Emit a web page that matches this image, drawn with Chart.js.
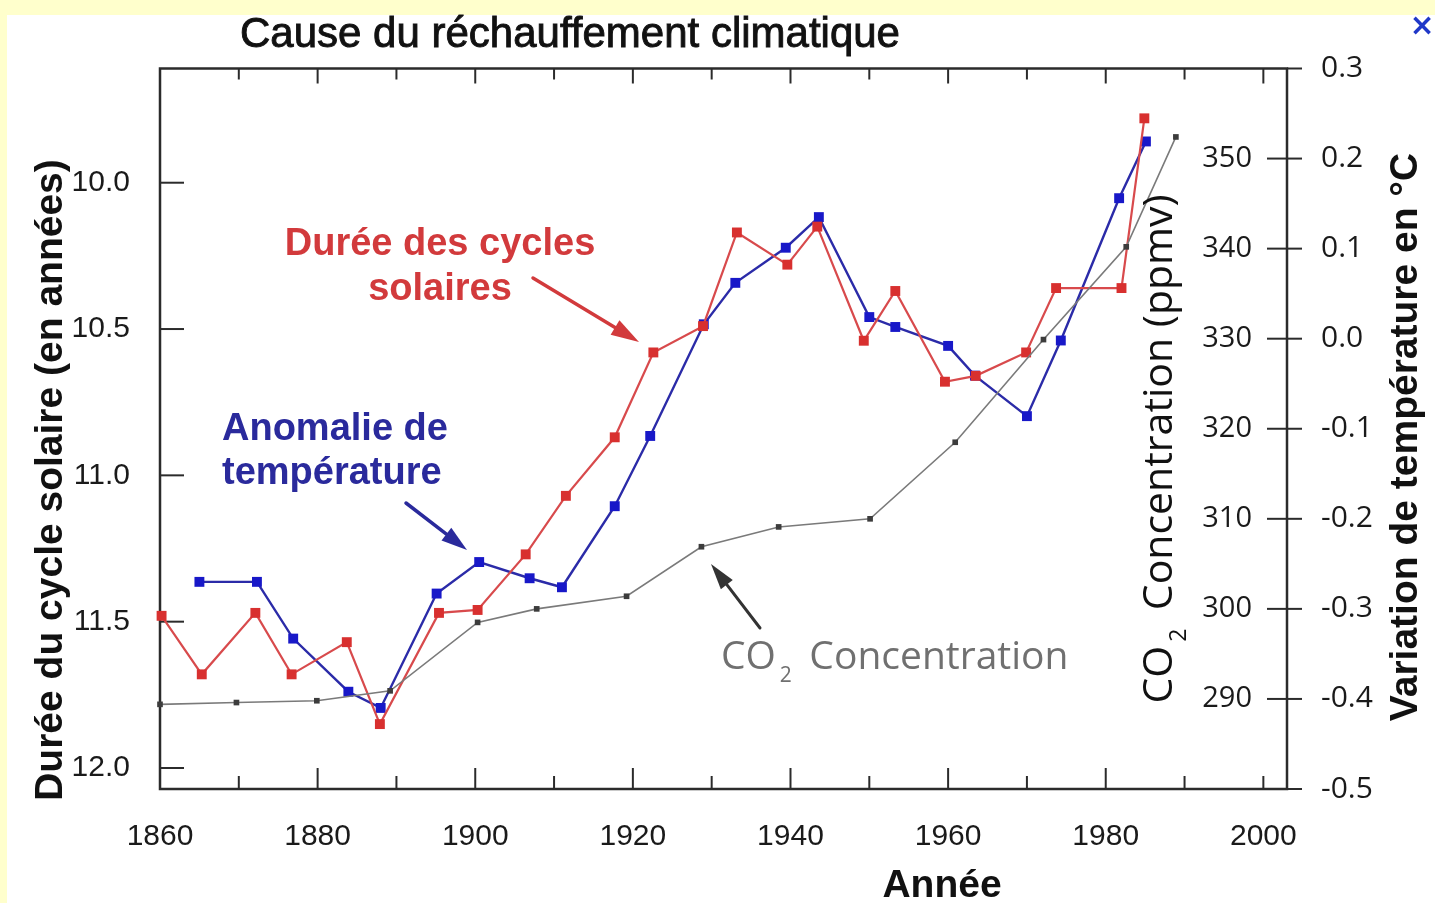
<!DOCTYPE html>
<html>
<head>
<meta charset="utf-8">
<script src="https://cdn.jsdelivr.net/npm/chart.js@4.4.0/dist/chart.umd.min.js"></script>
<style>
  html, body { margin: 0; padding: 0; background: #ffffcc; overflow: hidden; }
  #wrap { width: 1435px; height: 903px; position: relative; }
  canvas { display: block; }
</style>
</head>
<body>
<div id="wrap"><canvas id="c" width="1435" height="903"></canvas></div>
<script>
// ---------- DATA ----------
const solarYears = [1860.2, 1865.3, 1872.1, 1876.7, 1883.7, 1887.9, 1895.4, 1900.3, 1906.4, 1911.5, 1917.7, 1922.6, 1928.9, 1933.2, 1939.6, 1943.4, 1949.3, 1953.3, 1959.6, 1963.5, 1969.9, 1973.7, 1982.0, 1984.9];
const solarLength = [11.48, 11.68, 11.47, 11.68, 11.57, 11.85, 11.47, 11.46, 11.27, 11.07, 10.87, 10.58, 10.49, 10.17, 10.28, 10.15, 10.54, 10.37, 10.68, 10.66, 10.58, 10.36, 10.36, 9.78];

const tempYears = [1865.0, 1872.3, 1876.9, 1883.9, 1888.0, 1895.1, 1900.5, 1906.9, 1911.0, 1917.7, 1922.2, 1929.0, 1933.0, 1939.4, 1943.6, 1950.0, 1953.3, 1960.0, 1963.4, 1970.0, 1974.3, 1981.7, 1985.1];
const tempAnomaly = [-0.270, -0.270, -0.333, -0.392, -0.410, -0.283, -0.248, -0.266, -0.276, -0.186, -0.108, 0.016, 0.062, 0.101, 0.135, 0.024, 0.013, -0.008, -0.041, -0.086, -0.002, 0.156, 0.219];

const co2Years = [1860.0, 1869.7, 1879.9, 1889.2, 1900.3, 1907.8, 1919.2, 1928.7, 1938.5, 1950.1, 1960.9, 1972.1, 1982.6, 1988.9];
const co2Ppmv = [289.4, 289.6, 289.8, 290.9, 298.5, 300.0, 301.4, 306.9, 309.1, 310.0, 318.5, 329.9, 340.2, 352.4];

const yearTicks = [1860, 1880, 1900, 1920, 1940, 1960, 1980, 2000];
const decadeMarks = [1870, 1880, 1890, 1900, 1910, 1920, 1930, 1940, 1950, 1960, 1970, 1980, 1990, 2000];
const solarTicks = [10.0, 10.5, 11.0, 11.5, 12.0];
const co2Ticks = [290, 300, 310, 320, 330, 340, 350];
const tempTicks = [-0.5, -0.4, -0.3, -0.2, -0.1, 0.0, 0.1, 0.2, 0.3];

// ---------- HELPERS ----------
const W = 1435, H = 903;
function pts(xs, ys) { return xs.map((x, i) => ({ x: x, y: ys[i] })); }
function setTicks(arr) { return function (s) { s.ticks = arr.map(v => ({ value: v })); }; }
function line(ctx, x1, y1, x2, y2) { ctx.beginPath(); ctx.moveTo(x1, y1); ctx.lineTo(x2, y2); ctx.stroke(); }
function arrow(ctx, x1, y1, x2, y2, color, lw, hl, hw) {
  const ang = Math.atan2(y2 - y1, x2 - x1);
  const bx = x2 - hl * Math.cos(ang), by = y2 - hl * Math.sin(ang);
  ctx.save();
  ctx.strokeStyle = color; ctx.fillStyle = color; ctx.lineWidth = lw; ctx.lineCap = 'round';
  line(ctx, x1, y1, bx, by);
  ctx.beginPath();
  ctx.moveTo(x2, y2);
  ctx.lineTo(bx + hw / 2 * Math.sin(ang), by - hw / 2 * Math.cos(ang));
  ctx.lineTo(bx - hw / 2 * Math.sin(ang), by + hw / 2 * Math.cos(ang));
  ctx.closePath(); ctx.fill();
  ctx.restore();
}
// "CO" + subscript 2 + rest, left aligned on alphabetic baseline y
const SUB_PRE = 0.1, SUB_POST = 0.45;
function co2Text(ctx, x, y, size, rest, color) {
  ctx.fillStyle = color;
  ctx.textAlign = 'left'; ctx.textBaseline = 'alphabetic';
  ctx.font = size + 'px "Open Sans"';
  ctx.fillText('CO', x, y);
  let cx = x + ctx.measureText('CO').width;
  const sub = Math.round(size * 0.55);
  ctx.font = sub + 'px "Open Sans"';
  ctx.fillText('2', cx + size * SUB_PRE, y + size * 0.34);
  cx += size * SUB_PRE + ctx.measureText('2').width + size * SUB_POST;
  ctx.font = size + 'px "Open Sans"';
  ctx.fillText(rest, cx, y);
}
function co2Width(ctx, size, rest) {
  ctx.font = size + 'px "Open Sans"';
  let w = ctx.measureText('CO').width + ctx.measureText(rest).width + size * (SUB_PRE + SUB_POST);
  ctx.font = Math.round(size * 0.55) + 'px "Open Sans"';
  return w + ctx.measureText('2').width;
}
function boldish(ctx, text, x, y, color, lw) {
  ctx.fillStyle = color; ctx.strokeStyle = color; ctx.lineWidth = lw;
  ctx.fillText(text, x, y); ctx.strokeText(text, x, y);
}

// ---------- DECORATION PLUGIN ----------
const deco = {
  id: 'deco',
  beforeDraw(chart) {
    const ctx = chart.ctx;
    ctx.save();
    ctx.fillStyle = '#ffffcc'; ctx.fillRect(0, 0, W, H);
    ctx.fillStyle = '#ffffff'; ctx.fillRect(7, 15, W - 7, H - 15);
    ctx.restore();
  },
  beforeDatasetsDraw(chart) {
    const ctx = chart.ctx, a = chart.chartArea, sc = chart.scales;
    ctx.save();
    ctx.strokeStyle = '#2b2b2b'; ctx.lineWidth = 2.5; ctx.lineCap = 'butt';
    ctx.strokeRect(a.left, a.top, a.right - a.left, a.bottom - a.top);
    ctx.lineWidth = 2;
    decadeMarks.forEach(yr => {
      const px = sc.x.getPixelForValue(yr);
      const major = yr % 20 === 0;
      line(ctx, px, a.bottom, px, a.bottom - (major && yr !== 2000 ? 21 : 13));
      line(ctx, px, a.top, px, a.top + (major ? 15 : 11));
    });
    solarTicks.forEach(v => { const py = sc.ySolar.getPixelForValue(v); line(ctx, a.left, py, a.left + 24, py); });
    tempTicks.forEach(v => { const py = sc.yTemp.getPixelForValue(v); line(ctx, a.right, py, a.right + 15, py); });
    co2Ticks.forEach(v => { const py = sc.yCO2.getPixelForValue(v); line(ctx, a.right - 20, py, a.right, py); });
    ctx.restore();
  },
  afterDatasetsDraw(chart) {
    const ctx = chart.ctx;
    ctx.save();
    // main title
    ctx.textAlign = 'center'; ctx.textBaseline = 'alphabetic';
    ctx.font = '42px "Liberation Sans"';
    boldish(ctx, 'Cause du réchauffement climatique', 570, 47, '#111', 0.9);
    // close mark
    ctx.fillStyle = '#2038c8'; ctx.font = 'bold 30px "DejaVu Sans"';
    ctx.fillText('×', 1422, 35);
    // red annotation
    ctx.fillStyle = '#d23a3c'; ctx.font = 'bold 38px "Liberation Sans"';
    ctx.fillText('Durée des cycles', 440, 255);
    ctx.fillText('solaires', 440, 300);
    // blue annotation
    ctx.fillStyle = '#2a2a9c'; ctx.textAlign = 'left';
    ctx.fillText('Anomalie de', 222, 440);
    ctx.fillText('température', 222, 484);
    // arrows
    arrow(ctx, 533, 278, 639, 342, '#d23a3c', 3.5, 28, 17);
    arrow(ctx, 406, 503, 467, 550, '#2a2a9c', 3.5, 26, 16);
    arrow(ctx, 760, 628, 711, 564, '#333333', 3, 26, 15);
    // CO2 annotation
    co2Text(ctx, 721, 669, 39, 'Concentration', '#707070');
    // x axis title
    ctx.fillStyle = '#111'; ctx.textAlign = 'center';
    ctx.font = 'bold 39px "Liberation Sans"';
    ctx.fillText('Année', 942, 897);
    // left title
    ctx.save();
    ctx.translate(62, 480); ctx.rotate(-Math.PI / 2);
    ctx.fillText('Durée du cycle solaire (en années)', 0, 0);
    ctx.restore();
    // right title
    ctx.save();
    ctx.translate(1417, 437); ctx.rotate(-Math.PI / 2);
    ctx.fillText('Variation de température en °C', 0, 0);
    ctx.restore();
    // CO2 axis title
    ctx.save();
    ctx.translate(1172, 449); ctx.rotate(-Math.PI / 2);
    const tw = co2Width(ctx, 41, 'Concentration (ppmv)');
    co2Text(ctx, -tw / 2, 0, 41, 'Concentration (ppmv)', '#111');
    ctx.restore();
    ctx.restore();
  }
};

// ---------- CHART ----------
const tickFontA = { family: 'Liberation Sans', size: 30 };
new Chart(document.getElementById('c'), {
  type: 'line',
  data: {
    datasets: [
      {
        label: 'CO2 Concentration', data: pts(co2Years, co2Ppmv), yAxisID: 'yCO2',
        borderColor: '#7a7a7a', borderWidth: 1.6, pointStyle: 'rect', pointRadius: 4,
        pointBackgroundColor: '#3c3c3c', pointBorderColor: '#3c3c3c', pointBorderWidth: 0, clip: false
      },
      {
        label: 'Durée des cycles solaires', data: pts(solarYears, solarLength), yAxisID: 'ySolar',
        borderColor: '#d84a4c', borderWidth: 2.2, pointStyle: 'rect', pointRadius: 7,
        pointBackgroundColor: '#d8302f', pointBorderColor: '#d8302f', pointBorderWidth: 0, clip: false
      },
      {
        label: 'Anomalie de température', data: pts(tempYears, tempAnomaly), yAxisID: 'yTemp',
        borderColor: '#2b2ba8', borderWidth: 2.4, pointStyle: 'rect', pointRadius: 7,
        pointBackgroundColor: '#1818c8', pointBorderColor: '#1818c8', pointBorderWidth: 0, clip: false
      }
    ]
  },
  options: {
    responsive: false, animation: false, devicePixelRatio: 1,
    layout: { padding: { top: 68.5, left: 0, right: 0, bottom: 0 } },
    plugins: { legend: { display: false }, tooltip: { enabled: false }, title: { display: false } },
    elements: { line: { tension: 0 } },
    scales: {
      x: {
        type: 'linear', position: 'bottom', min: 1860, max: 2003,
        afterBuildTicks: setTicks(yearTicks),
        afterFit: s => { s.height = 114; },
        grid: { display: false, drawTicks: false }, border: { display: false },
        ticks: { autoSkip: false, maxRotation: 0, padding: 30, color: '#1a1a1a', font: tickFontA, callback: v => String(v) }
      },
      ySolar: {
        type: 'linear', position: 'left', reverse: true, min: 9.6097, max: 12.0718,
        afterBuildTicks: setTicks(solarTicks),
        afterFit: s => { s.width = 160; },
        grid: { display: false, drawTicks: false }, border: { display: false },
        ticks: { padding: 30, color: '#1a1a1a', font: tickFontA, callback: v => Number(v).toFixed(1) }
      },
      yCO2: {
        type: 'linear', position: 'right', weight: 0, min: 280, max: 360,
        afterBuildTicks: setTicks(co2Ticks),
        afterFit: s => { s.width = 0; },
        grid: { display: false, drawTicks: false }, border: { display: false },
        ticks: { mirror: true, padding: -35, color: '#1a1a1a', font: { family: 'Open Sans', size: 29 }, callback: v => String(v) }
      },
      yTemp: {
        type: 'linear', position: 'right', weight: 1, min: -0.5, max: 0.3,
        afterBuildTicks: setTicks(tempTicks),
        afterFit: s => { s.width = 148; },
        grid: { display: false, drawTicks: false }, border: { display: false },
        ticks: { padding: 34, color: '#1a1a1a', font: { family: 'Open Sans', size: 30 },
          callback: v => (Math.abs(v) < 1e-9 ? '0.0' : Number(v).toFixed(1)) }
      }
    }
  },
  plugins: [deco]
});
</script>
</body>
</html>
